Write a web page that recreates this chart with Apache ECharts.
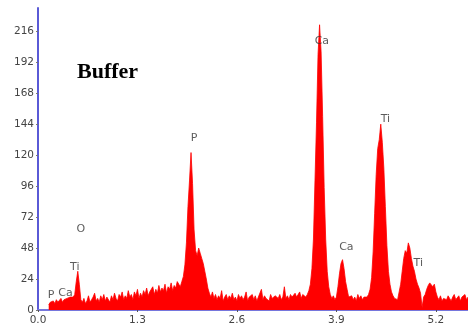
<!DOCTYPE html>
<html>
<head>
<meta charset="utf-8">
<script src="https://cdn.jsdelivr.net/npm/echarts@6/dist/echarts.min.js"></script>
<style>
html,body{margin:0;padding:0;background:#fff;}
#chart{width:468px;height:333px;}
</style>
</head>
<body>
<div id="chart"></div>
<script>
// Energy grid (keV): first channel and channel width
const energyStart = 0.14;
const energyStep = 0.02;
// Counts, one per channel
const counts = [
  4, 6, 5, 7, 5, 8, 6, 7, 9, 6,
  8, 7, 9, 8, 10, 9, 10, 12, 22, 30,
  20, 8, 6, 9, 5, 7, 11, 6, 8, 10,
  13, 7, 9, 6, 11, 8, 12, 7, 10, 9,
  6, 11, 8, 13, 9, 7, 12, 10, 14, 8,
  11, 9, 15, 10, 12, 8, 14, 11, 16, 9,
  13, 10, 15, 12, 17, 11, 14, 13, 18, 12,
  16, 13, 19, 14, 17, 15, 20, 13, 18, 16,
  21, 15, 19, 17, 22, 20, 18, 22, 26, 35,
  52, 80, 100, 122, 98, 62, 46, 42, 48, 44,
  40, 36, 30, 24, 17, 13, 10, 14, 9, 12,
  8, 11, 9, 15, 7, 10, 12, 8, 11, 9,
  13, 8, 10, 7, 12, 9, 11, 8, 10, 14,
  7, 10, 9, 12, 8, 11, 7, 10, 9, 16,
  8, 11, 9, 10, 7, 12, 9, 8, 11, 10,
  9, 12, 8, 10, 18, 9, 11, 8, 12, 10,
  9, 13, 10, 11, 14, 9, 12, 13, 10, 12,
  15, 20, 32, 55, 100, 145, 198, 221, 200, 150,
  95, 55, 30, 18, 12, 9, 11, 8, 10, 18,
  28, 36, 39, 32, 22, 16, 10, 9, 11, 8,
  10, 7, 12, 9, 11, 8, 10, 9, 10, 12,
  16, 25, 45, 75, 105, 125, 132, 144, 130, 110,
  80, 50, 30, 20, 14, 11, 9, 10, 8, 14,
  20, 30, 40, 46, 44, 52, 48, 40, 34, 30,
  24, 20, 17, 13, 2, 10, 12, 16, 19, 21,
  22, 18, 20, 14, 10, 8, 11, 7, 9, 10,
  8, 11, 9, 7, 10, 12, 8, 9, 11, 7,
  10, 9, 12, 8, 10
];
// Peak labels: element, energy (keV), counts position
const peakNames = ['P', 'Ca', 'Ti', 'O', 'P', 'Ca', 'Ca', 'Ti', 'Ti'];
const peakEnergy = [0.17, 0.36, 0.48, 0.56, 2.04, 3.71, 4.03, 4.54, 4.97];
const peakCounts = [11.5, 13, 33, 63, 133, 208, 49, 148, 36.5];
// Axis ticks
const xTicks = [0.0, 1.3, 2.6, 3.9, 5.2];
const yTicks = [0, 24, 48, 72, 96, 120, 144, 168, 192, 216];
const title = 'Buffer';

const spectrum = counts.map((c, i) => [+(energyStart + i * energyStep).toFixed(3), c]);
const labels = peakNames.map((n, i) => ({ name: n, value: [peakEnergy[i], peakCounts[i]] }));

const chart = echarts.init(document.getElementById('chart'), null, { renderer: 'canvas' });
chart.setOption({
  animation: false,
  backgroundColor: '#ffffff',
  grid: { left: 38, right: 0, top: 8, bottom: 23 },
  xAxis: {
    type: 'value',
    min: 0,
    max: 5.62,
    interval: 1.3,
    axisLine: { show: true, onZero: false, lineStyle: { color: '#7676dc', width: 2 } },
    axisTick: { show: true, length: 2, lineStyle: { color: '#555' } },
    axisLabel: {
      showMaxLabel: false,
      color: '#444',
      fontFamily: 'DejaVu Sans',
      fontSize: 10.5,
      margin: 5,
      formatter: v => v.toFixed(1)
    },
    splitLine: { show: false }
  },
  yAxis: {
    type: 'value',
    min: 0,
    max: 234,
    interval: 24,
    axisLine: { show: true, lineStyle: { color: '#5a5ad6', width: 2 } },
    axisTick: { show: true, length: 2, lineStyle: { color: '#777' } },
    axisLabel: {
      showMaxLabel: false,
      color: '#444',
      fontFamily: 'DejaVu Sans',
      fontSize: 10.5,
      margin: 4
    },
    splitLine: { show: false }
  },
  graphic: [{
    type: 'text',
    left: 77,
    top: 61,
    style: {
      text: title,
      font: 'bold 22px "Liberation Serif"',
      fill: '#000'
    }
  }],
  series: [
    {
      type: 'line',
      data: spectrum,
      showSymbol: false,
      symbol: 'none',
      lineStyle: { color: '#ff0000', width: 0.8 },
      areaStyle: { color: '#ff0000', opacity: 1 },
      z: 2
    },
    {
      type: 'scatter',
      data: labels,
      symbolSize: 1,
      itemStyle: { color: 'rgba(0,0,0,0)' },
      label: {
        show: true,
        position: 'inside',
        formatter: p => p.name,
        color: '#333',
        fontFamily: 'DejaVu Sans',
        fontSize: 11
      },
      z: 5
    }
  ]
});
</script>
</body>
</html>
